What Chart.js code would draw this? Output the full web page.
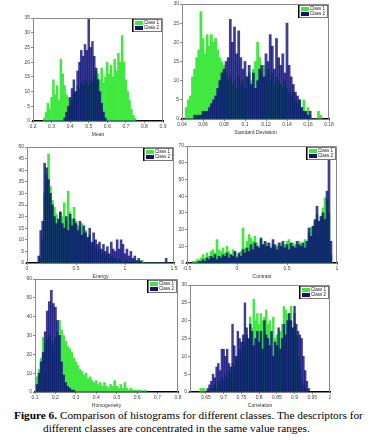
<!DOCTYPE html>
<html>
<head>
<meta charset="utf-8">
<script src="https://cdn.jsdelivr.net/npm/chart.js@4.4.1/dist/chart.umd.min.js"></script>
<style>
  html, body { margin: 0; padding: 0; background: #fff; }
  #fig { position: relative; width: 391px; height: 443px; overflow: hidden; background: #fff; }
  #fig canvas { position: absolute; }
  .cap { position: absolute; font-family: "Liberation Serif", "Times New Roman", serif; font-size: 11.3px; line-height: 13px; color: #000; white-space: nowrap; }
</style>
</head>
<body>
<div id="fig">
  <canvas id="cMean"></canvas>
  <canvas id="cStd"></canvas>
  <canvas id="cEnergy"></canvas>
  <canvas id="cContrast"></canvas>
  <canvas id="cHomog"></canvas>
  <canvas id="cCorr"></canvas>
  <div class="cap" style="left:14px;top:409px"><b>Figure 6.</b> Comparison of histograms for different classes. The descriptors for</div>
  <div class="cap" style="left:43px;top:422px">different classes are concentrated in the same value ranges.</div>
</div>
<script>
// legend names
const classNames = ['Class 1', 'Class 2'];

// Mean: bins of 0.01 starting at 0.26
const meanBinStart = 0.26, meanBinWidth = 0.01;
const meanClass1 = [1,3,6,4,8,14,9,12,7,21, 16,12,9,8,5,7,9,10,12,11, 13,12,14,13,12,14,13,15,17,16, 14,18,13,15,20,16,19,15,21,17, 23,20,29,20,14,10,7,4,2,1];
const meanClass2 = [0,0,0,0,0,0,0,0,0,0, 0,1,3,5,8,11,14,10,17,20, 24,22,26,24,35,25,27,22,18,14, 10,6,3,1,0,0,0,0,0,0, 0,0,0,0,0,0,0,0,0,0];
const meanTicks = [0.2, 0.3, 0.4, 0.5, 0.6, 0.7, 0.8, 0.9];

// Standard deviation: bins of 0.002 starting at 0.044
const stdBinStart = 0.044, stdBinWidth = 0.002;
const stdClass1 = [3,5,6,11,13,16,18,28,21,17, 22,19,22,20,21,18,16,15,14,12, 10,11,9,10,8,11,9,10,8,11, 12,10,13,15,20,16,12,14,11,13, 10,12,9,11,10,9,8,10,8,7, 6,7,5,4,5,3,5,2,3,1, 0,0,0,2,1];
const stdClass2 = [0,0,0,0,1,1,1,1,2,2, 2,3,4,5,6,8,10,12,13,15, 16,26,20,24,17,23,16,13,15,11, 14,9,12,8,10,13,14,11,17,15, 22,19,13,21,16,14,17,12,25,14, 11,9,7,6,5,3,2,2,1,2, 0,0,0,0,0];
const stdTicks = [0.04, 0.06, 0.08, 0.1, 0.12, 0.14, 0.16, 0.18];

// Energy: bins of 0.02 starting at 0.12
const energyBinStart = 0.12, energyBinWidth = 0.02;
const energyClass1 = [0,2,10,30,38,47,33,27,24,21, 18,22,20,26,18,31,22,19,24,18, 16,15,17,13,14,10,12,8,9,7, 5,6,4,5,3,4,2,3,2,2, 1,2,1,0,0,1,0,0,0,0, 1,0,0,1,0,0,0,0,0,0, 0,0,0,0,0,0,0];
const energyClass2 = [3,14,18,43,41,36,30,25,20,17, 19,22,17,15,20,14,21,16,19,17, 14,18,12,16,13,11,15,9,13,10, 8,9,6,8,5,7,4,9,6,5, 10,6,10,8,4,6,3,5,2,3, 1,2,1,0,0,0,0,0,0,0, 0,0,0,0,0,2,0];
const energyTicks = [0, 0.5, 1, 1.5];

// Contrast: bins of 0.02 starting at -0.44
const contrastBinStart = -0.44, contrastBinWidth = 0.02;
const contrastClass1 = [1,1,2,2,3,5,3,6,4,7, 8,6,14,8,7,9,6,10,7,5, 8,6,4,5,7,21,9,13,17,15, 13,16,12,10,14,11,9,12,10,8, 11,9,10,7,12,9,11,13,14,10, 12,11,9,13,12,10,14,13,18,21, 22,25,29,24,27,33,39,38,30,5];
const contrastClass2 = [0,0,0,1,1,2,1,3,2,4, 3,5,2,4,3,5,4,6,3,5, 4,7,3,6,4,8,6,9,7,11, 8,12,10,9,15,11,13,10,12,9, 14,11,8,12,10,13,9,11,8,12, 10,9,13,11,10,12,9,13,21,16, 22,26,34,25,28,30,26,43,64,13];
const contrastTicks = [-0.5, 0, 0.5, 1];

// Homogeneity: bins of 0.01 starting at 0.10
const homogBinStart = 0.10, homogBinWidth = 0.01;
const homogClass1 = [3,8,12,18,29,26,28,30,27,25, 29,32,38,33,30,27,24,23,21,18, 16,14,12,11,9,10,7,8,6,5, 6,4,5,3,5,3,2,4,3,6, 3,2,4,2,5,2,1,2,1,1, 1,1,1,0,1];
const homogClass2 = [0,4,10,16,21,32,43,48,54,47, 45,38,30,16,9,5,3,2,1,1, 0,0,0,0,0,0,0,0,0,0, 0,0,0,0,0,0,0,0,0,0, 0,0,0,0,0,0,0,0,0,0, 0,0,0,0,0];
const homogTicks = [0.1, 0.2, 0.3, 0.4, 0.5, 0.6, 0.7, 0.8];

// Correlation: bins of 0.005 starting at 0.635
const corrBinStart = 0.635, corrBinWidth = 0.005;
const corrClass1 = [1,1,1,0,0,0,1,1,2,1, 3,2,4,3,5,4,6,5,8,7, 9,10,12,11,14,13,16,15,21,18, 26,20,22,19,22,20,21,23,19,20, 17,21,15,16,13,17,19,24,23,22, 20,24,18,22,16,10,6,3,2,1, 0,0];
const corrClass2 = [0,0,0,0,1,2,3,5,4,7, 8,6,12,12,10,12,8,7,19,13, 10,17,15,14,16,25,18,15,19,17, 13,15,17,14,17,12,20,16,15,13, 17,10,14,13,18,12,15,19,16,20, 22,20,18,24,19,17,16,15,10,6, 3,1];
const corrTicks = [0.65, 0.7, 0.75, 0.8, 0.85, 0.9, 0.95, 1];

const GREEN = 'rgb(64,232,64)';
const NAVY = 'rgba(8,8,118,0.78)';
const NAVY_SOLID = 'rgb(20,20,110)';
const TICK_FONT = { family: '"Liberation Sans", Arial, sans-serif', size: 5 };

const fmt = v => String(+Number(v).toFixed(3));

const toPoints = (start, width, vals) => vals.map((v, i) => ({ x: +(start + width * i).toFixed(4), y: v }));

// box outline + legend in the top right of the plot
const framePlugin = {
  id: 'panelFrame',
  afterDraw(chart) {
    const { ctx, chartArea: a } = chart;
    ctx.save();
    ctx.strokeStyle = '#8a8a8a';
    ctx.lineWidth = 1;
    ctx.beginPath();
    ctx.moveTo(a.left, a.top + 0.5);
    ctx.lineTo(a.right - 0.5, a.top + 0.5);
    ctx.lineTo(a.right - 0.5, a.bottom);
    ctx.stroke();

    ctx.font = '4.5px "Liberation Sans", Arial, sans-serif';
    const tw = Math.max(ctx.measureText(classNames[0]).width, ctx.measureText(classNames[1]).width);
    const w = Math.ceil(tw) + 14, h = 13, x = a.right - w - 1, y = a.top + 1;
    ctx.fillStyle = '#fff';
    ctx.fillRect(x, y, w, h);
    ctx.strokeStyle = '#777';
    ctx.strokeRect(x + 0.5, y + 0.5, w - 1, h - 1);
    ctx.fillStyle = '#000';
    ctx.fillRect(x, y, 1.5, h);
    ctx.fillStyle = GREEN;
    ctx.fillRect(x + 3, y + 2, 8, 4);
    ctx.fillStyle = NAVY_SOLID;
    ctx.fillRect(x + 3, y + 7, 8, 4);
    ctx.fillStyle = '#222';
    ctx.textBaseline = 'middle';
    ctx.fillText(classNames[0], x + 12, y + 4);
    ctx.fillText(classNames[1], x + 12, y + 9);
    ctx.restore();
  }
};

// area = [left, top, right, bottom] of the plot box on the page
function makePanel(id, area, cfg) {
  const PL = 22, PT = 3, PR = 7, PB = 17;
  const cv = document.getElementById(id);
  cv.width = area[2] - area[0] + PL + PR;
  cv.height = area[3] - area[1] + PT + PB;
  cv.style.left = (area[0] - PL) + 'px';
  cv.style.top = (area[1] - PT) + 'px';

  return new Chart(cv, {
    type: 'bar',
    data: {
      datasets: [
        { label: classNames[1], data: toPoints(cfg.start, cfg.width, cfg.c2), backgroundColor: NAVY, order: 0 },
        { label: classNames[0], data: toPoints(cfg.start, cfg.width, cfg.c1), backgroundColor: GREEN, order: 1 }
      ]
    },
    options: {
      responsive: false,
      animation: false,
      layout: { padding: { top: PT, right: PR, left: 0, bottom: 0 } },
      datasets: { bar: { grouped: false, barPercentage: 1, categoryPercentage: 1, borderWidth: 0 } },
      plugins: { legend: { display: false }, tooltip: { enabled: false } },
      scales: {
        x: {
          type: 'linear',
          min: cfg.xMin,
          max: cfg.xMax,
          offset: false,
          z: 1,
          afterBuildTicks: s => { s.ticks = cfg.ticks.map(v => ({ value: v })); },
          afterFit: s => { s.height = PB; },
          ticks: { font: TICK_FONT, color: '#444', padding: 1, maxRotation: 0, autoSkip: false, callback: v => fmt(v) },
          grid: { display: true, drawOnChartArea: false, offset: false, tickLength: 2, color: '#888' },
          border: { color: '#000', width: 1.5 },
          title: { display: true, text: cfg.title, font: TICK_FONT, color: '#333', padding: { top: 2, bottom: 0 } }
        },
        y: {
          min: 0,
          max: cfg.yMax,
          afterFit: s => { s.width = PL; },
          ticks: { stepSize: cfg.yStep, font: TICK_FONT, color: '#444', padding: 1 },
          grid: { display: true, drawOnChartArea: false, tickLength: 2, color: '#888' },
          border: { color: '#8a8a8a', width: 1 }
        }
      }
    },
    plugins: [framePlugin]
  });
}

makePanel('cMean', [33, 17, 163, 121], {
  start: meanBinStart, width: meanBinWidth, c1: meanClass1, c2: meanClass2,
  xMin: 0.2, xMax: 0.9, ticks: meanTicks, yMax: 35, yStep: 5, title: 'Mean'
});
makePanel('cStd', [182, 3, 329, 119], {
  start: stdBinStart, width: stdBinWidth, c1: stdClass1, c2: stdClass2,
  xMin: 0.04, xMax: 0.18, ticks: stdTicks, yMax: 30, yStep: 5, title: 'Standard Deviation'
});
makePanel('cEnergy', [27, 146, 174, 263], {
  start: energyBinStart, width: energyBinWidth, c1: energyClass1, c2: energyClass2,
  xMin: 0, xMax: 1.5, ticks: energyTicks, yMax: 50, yStep: 5, title: 'Energy'
});
makePanel('cContrast', [187, 145, 337, 263], {
  start: contrastBinStart, width: contrastBinWidth, c1: contrastClass1, c2: contrastClass2,
  xMin: -0.5, xMax: 1, ticks: contrastTicks, yMax: 70, yStep: 10, title: 'Contrast'
});
makePanel('cHomog', [35, 278, 178, 392], {
  start: homogBinStart, width: homogBinWidth, c1: homogClass1, c2: homogClass2,
  xMin: 0.1, xMax: 0.8, ticks: homogTicks, yMax: 60, yStep: 10, title: 'Homogeneity'
});
makePanel('cCorr', [190, 284, 330, 392], {
  start: corrBinStart, width: corrBinWidth, c1: corrClass1, c2: corrClass2,
  xMin: 0.605, xMax: 1, ticks: corrTicks, yMax: 30, yStep: 5, title: 'Correlation'
});
</script>
</body>
</html>
